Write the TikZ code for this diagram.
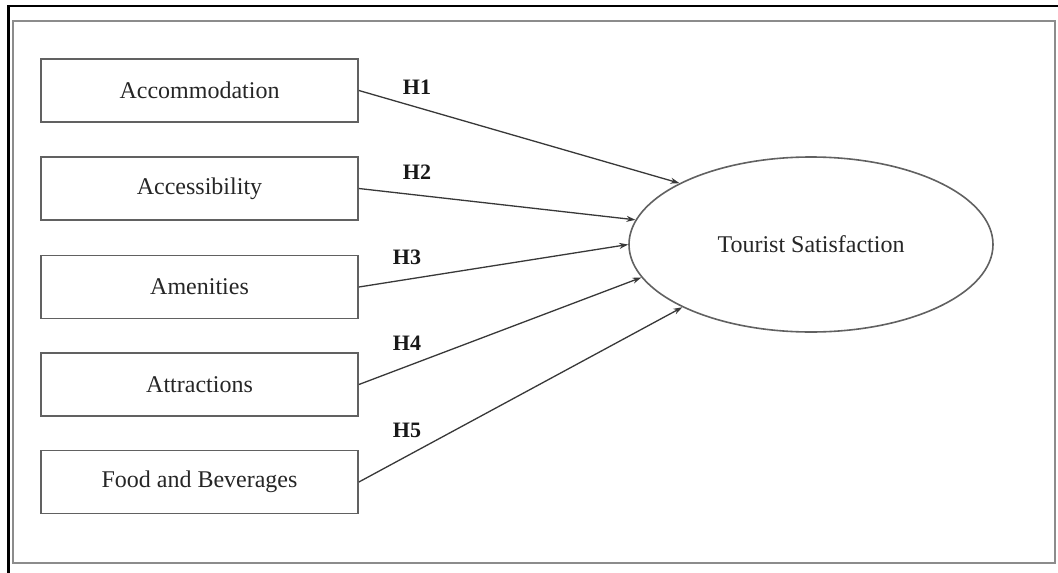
\documentclass[tikz,border=0pt]{standalone}
\usepackage{fontspec}
\setmainfont{Liberation Serif}
\usetikzlibrary{arrows.meta,shapes.geometric}
\tikzset{
  factorbox/.style={draw=black!62, line width=1.8pt, minimum width=317pt, minimum height=63pt, inner sep=0pt, font=\fontsize{24}{28}\selectfont, text=black!85},
  outcome/.style={ellipse, draw=black!62, line width=1.6pt, minimum width=364pt, minimum height=175pt, inner sep=0pt, font=\fontsize{24}{28}\selectfont, text=black!85},
  hyparrow/.style={draw=black!78, line width=1.3pt, -{Stealth[length=9pt,width=6pt]}},
  hlabel/.style={font=\fontsize{22}{26}\selectfont\bfseries, text=black!90, inner sep=0pt}
}
\begin{document}
\begin{tikzpicture}[x=1pt,y=-1pt]
\useasboundingbox (0,0) rectangle (1058,573);
\fill[white] (0,0) rectangle (1058,573);
% outer black frame (partially visible)
\draw[black, line width=2.2pt] (8.5,573) -- (8.5,5.7) -- (1058,5.7);
% inner gray frame
\draw[black!45, line width=2pt] (12.7,20.7) rectangle (1055,563);
% factor boxes
\node[factorbox] (acc) at (199.5,90.5) {Accommodation};
\node[factorbox] (acs) at (199.5,188.5) {Accessibility};
\node[factorbox] (ame) at (199.5,287) {Amenities};
\node[factorbox] (att) at (199.5,384.5) {Attractions};
\node[factorbox] (fab) at (199.5,482) {Food and Beverages};
% outcome
\node[outcome] (ts) at (811,244.5) {Tourist Satisfaction};
% arrows
\draw[hyparrow] (acc.east) -- (ts.155);
\draw[hyparrow] (acs.east) -- (ts.172.5);
\draw[hyparrow] (ame.east) -- (ts.180.8);
\draw[hyparrow] (att.east) -- (ts.191.2);
\draw[hyparrow] (fab.east) -- (ts.206.2);
% labels
\node[hlabel] (h1) at (417,87) {H1};
\node[hlabel] (h2) at (417,172) {H2};
\node[hlabel] (h3) at (407,257) {H3};
\node[hlabel] (h4) at (407,343) {H4};
\node[hlabel] (h5) at (407,430) {H5};
\end{tikzpicture}
\end{document}
